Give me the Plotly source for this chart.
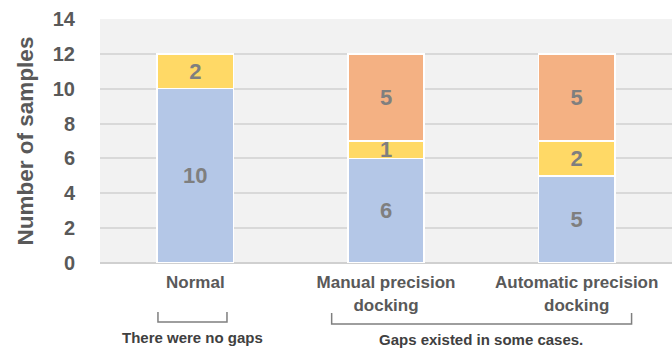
import plotly.graph_objects as go

categories = ["Normal", "Manual precision<br>docking", "Automatic precision<br>docking"]
blue_vals = [10, 6, 5]
yellow_vals = [2, 1, 2]
orange_vals = [None, 5, 5]
y_ticks = [0, 2, 4, 6, 8, 10, 12, 14]

FONT = "Arial"
x_idx = list(range(len(categories)))

fig = go.Figure()
for vals, color in [(blue_vals, "#b4c7e7"), (yellow_vals, "#ffd966"), (orange_vals, "#f4b183")]:
    fig.add_trace(go.Bar(
        x=x_idx, y=vals, width=0.4,
        marker=dict(color=color, line=dict(color="white", width=1.5)),
        texttemplate="<b>%{y}</b>", textposition="inside", textangle=0,
        insidetextanchor="middle",
        textfont=dict(family=FONT, size=22, color="#7f7f7f"),
        hoverinfo="skip", showlegend=False,
    ))

fig.update_layout(
    barmode="stack",
    width=672, height=351,
    margin=dict(l=100, r=0, t=19, b=88),
    paper_bgcolor="white",
    plot_bgcolor="#f2f2f2",
    uniformtext=dict(minsize=22, mode="show"),
    font=dict(family=FONT),
)
fig.update_xaxes(
    tickmode="array", tickvals=x_idx, ticktext=["<b>" + c.replace("<br>", "</b><br><b>") + "</b>" for c in categories],
    range=[-0.5, 2.5],
    tickfont=dict(family=FONT, size=17, color="#595959"),
    ticks="outside", ticklen=4, tickcolor="rgba(0,0,0,0)",
    showgrid=False, showline=False, zeroline=False,
)
fig.update_yaxes(
    range=[0, 14], tickmode="array", tickvals=y_ticks,
    ticktext=[f"<b>{v}</b>" for v in y_ticks],
    tickfont=dict(family=FONT, size=20, color="#595959"),
    ticks="outside", ticklen=20, tickcolor="rgba(0,0,0,0)",
    showgrid=True, gridcolor="#d9d9d9", gridwidth=1.5,
    zeroline=True, zerolinecolor="#d0d0d0", zerolinewidth=2,
    showline=False,
    title=dict(text="<b>Number of samples</b>", standoff=12,
               font=dict(family=FONT, size=22.5, color="#595959")),
)

# brackets (x in category units, y in paper units)
brackets = [(-0.196, 0.166, -0.2008, -0.2418), (0.715, 2.288, -0.205, -0.25)]
for x0, x1, ytop, ybot in brackets:
    fig.add_shape(type="path", xref="x", yref="paper",
                  path=f"M {x0} {ytop} L {x0} {ybot} L {x1} {ybot} L {x1} {ytop}",
                  line=dict(color="#7f7f7f", width=1.5))

notes = [(-0.014, -0.305, "There were no gaps"), (1.5, -0.314, "Gaps existed in some cases.")]
for x, y, t in notes:
    fig.add_annotation(x=x, y=y, xref="x", yref="paper", text=f"<b>{t}</b>", showarrow=False,
                       xanchor="center", yanchor="middle",
                       font=dict(family=FONT, size=15, color="#404040"))

fig.write_html("out.html")
